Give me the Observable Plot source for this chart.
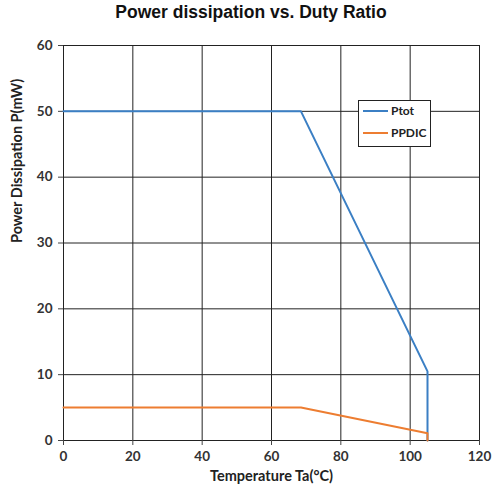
<!DOCTYPE html>
<html>
<head>
<meta charset="utf-8">
<script src="https://cdn.jsdelivr.net/npm/d3@7"></script>
<script src="https://cdn.jsdelivr.net/npm/@observablehq/plot@0.6"></script>
<style>
  html, body { margin: 0; padding: 0; background: #fff; }
  #wrap { position: relative; width: 492px; height: 490px; }
  #title { position: absolute; left: 0; top: 2px; width: 502px; text-align: center;
           font: bold 17.5px "Liberation Sans", Arial, sans-serif; color: #111; }
  #chart { position: absolute; left: 0; top: 30px; }
  #legend { position: absolute; left: 358px; top: 100px; width: 71px; height: 45px;
            border: 1px solid #222; background: #fff; font: bold 12px Lato, sans-serif; color: #222; }
  .item { position: absolute; left: 4px; display: flex; align-items: center; }
  .sw { width: 25px; height: 2px; margin-right: 3px; }
</style>
</head>
<body>
<div id="wrap">
  <div id="title">Power dissipation vs. Duty Ratio</div>
  <div id="chart"></div>
  <div id="legend"></div>
</div>
<script>
const seriesNames = ["Ptot", "PPDIC"];
const seriesColors = ["#3b7fc4", "#ed7d31"];
const temperature = {
  Ptot: [0, 68.5, 105, 105],
  PPDIC: [0, 68.5, 105, 105]
};
const power = {
  Ptot: [50, 50, 10.5, 0],
  PPDIC: [5, 5, 1.1, 0]
};
const xTicks = [0, 20, 40, 60, 80, 100, 120];
const yTicks = [0, 10, 20, 30, 40, 50, 60];

const rows = [];
for (const s of seriesNames) {
  temperature[s].forEach((t, i) => rows.push({series: s, t, p: power[s][i]}));
}

const tickFont = "Lato, sans-serif";
const plot = Plot.plot({
  width: 492,
  height: 460,
  marginTop: 15,
  marginBottom: 50,
  marginLeft: 63,
  marginRight: 13,
  style: {fontFamily: tickFont, fontSize: "13px", fontWeight: "bold", color: "#333"},
  x: {domain: [0, 120], ticks: xTicks, label: null},
  y: {domain: [0, 60], ticks: yTicks, label: null},
  color: {domain: seriesNames, range: seriesColors},
  marks: [
    Plot.gridX(xTicks, {stroke: "#222", strokeOpacity: 1, strokeWidth: 1}),
    Plot.gridY(yTicks, {stroke: "#222", strokeOpacity: 1, strokeWidth: 1}),
    Plot.frame({stroke: "#222"}),
    Plot.axisX(xTicks, {tickSize: 5, tickPadding: 6, stroke: "#444", fontSize: 13.5, fontWeight: "bold", label: null}),
    Plot.axisY(yTicks, {tickSize: 5, tickPadding: 6, stroke: "#444", fontSize: 13.5, fontWeight: "bold", label: null}),
    Plot.line(rows, {x: "t", y: "p", z: "series", stroke: "series", strokeWidth: 2}),
    Plot.text(["Temperature Ta(°C)"], {frameAnchor: "bottom", dy: 40, dx: 0, fontSize: 14.5, fontWeight: "bold", fill: "#222"}),
    Plot.text(["Power Dissipation P(mW)"], {frameAnchor: "left", dx: -46, rotate: -90, fontSize: 14.5, fontWeight: "bold", fill: "#222"})
  ]
});
document.getElementById("chart").appendChild(plot);

const legend = document.getElementById("legend");
seriesNames.forEach((s, i) => {
  const item = document.createElement("div");
  item.className = "item";
  item.style.top = (2 + i * 22) + "px";
  item.innerHTML = `<span class="sw" style="background:${seriesColors[i]}"></span><span>${s}</span>`;
  legend.appendChild(item);
});
</script>
</body>
</html>
